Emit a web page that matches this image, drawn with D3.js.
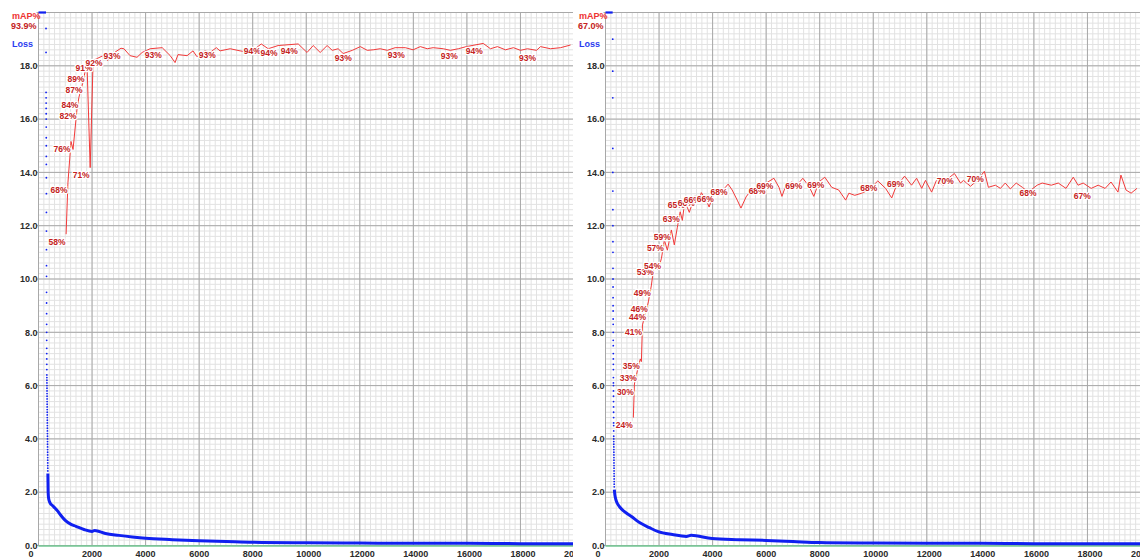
<!DOCTYPE html>
<html>
<head>
<meta charset="utf-8">
<script src="https://cdn.jsdelivr.net/npm/d3@7/dist/d3.min.js"></script>
<style>
body { margin: 0; background: #fff; }
svg text { font-family: "Liberation Sans", Arial, sans-serif; font-weight: bold; }
</style>
</head>
<body>
<div id="chart"></div>
<script>
var xTicks = [0, 2000, 4000, 6000, 8000, 10000, 12000, 14000, 16000, 18000, 20000];
var yTicks = [0, 2, 4, 6, 8, 10, 12, 14, 16, 18];

// left run (loss above 20 is clipped to the top edge)
var leftTopIters = [0, 50, 100, 150, 200, 250, 280];
var leftTopLoss = [640, 210, 95, 60, 41, 29, 22];
var leftDotStart = 281;
var leftDotLoss = [19.4, 18.5, 17.0, 16.8, 16.6, 16.4, 16.2, 16.0, 15.7, 15.3, 15.0, 14.6, 14.3, 13.8, 13.2,
    12.5, 11.8, 11.1, 10.5, 10.1, 9.5, 9.1, 8.7, 8.3, 8.0, 7.7, 7.4, 7.2, 7.0, 6.8, 6.6, 6.4, 6.3, 6.2, 6.1,
    6.0, 5.9, 5.8, 5.7, 5.6, 5.5, 5.4, 5.3, 5.2, 5.1, 5.0, 4.9, 4.8, 4.7, 4.6, 4.5, 4.4, 4.3, 4.2, 4.1, 4.0,
    3.9, 3.8, 3.7, 3.6, 3.5, 3.4, 3.3, 3.2, 3.1, 3.0, 2.9, 2.8];
var leftLossIters = [350, 360, 380, 430, 520, 620, 710, 800, 900, 1000, 1200, 1400, 1700, 2000, 2100, 2500,
    3000, 3500, 4000, 5000, 6000, 7000, 8000, 10000, 12000, 14000, 16000, 18000, 20000];
var leftLossVals = [2.7, 2.0, 1.75, 1.6, 1.5, 1.4, 1.3, 1.18, 1.05, 0.94, 0.8, 0.72, 0.6, 0.53, 0.56, 0.45,
    0.38, 0.32, 0.27, 0.22, 0.18, 0.15, 0.12, 0.1, 0.09, 0.08, 0.08, 0.07, 0.07];
var leftMapIters = [1030, 1100, 1215, 1290, 1440, 1510, 1660, 1740, 1810, 1930, 2040, 2410, 2590, 2780, 3080,
    3190, 3420, 3680, 3870, 4170, 4620, 4920, 5100, 5210, 5550, 5770, 5920, 6220, 6410, 6640, 6780, 7160,
    7530, 7910, 8320, 8580, 8950, 9700, 10030, 10260, 10520, 10780, 10970, 11190, 11380, 11720, 12020,
    12280, 12500, 12760, 13030, 13320, 13700, 13990, 14260, 14520, 14740, 15120, 15380, 15680, 15980,
    16610, 16880, 17140, 17440, 17740, 18000, 18260, 18600, 18750, 19120, 19500, 19870];
var leftMapVals = [58.4, 68.1, 75.8, 74.3, 82.0, 84.1, 86.9, 88.9, 90.6, 70.9, 91.0, 91.9, 91.0, 92.3, 93.3,
    93.2, 91.9, 91.6, 92.5, 93.2, 93.4, 91.9, 90.6, 92.1, 91.9, 92.8, 91.7, 92.8, 92.5, 93.4, 92.8, 93.2,
    92.8, 92.5, 94.1, 93.2, 93.8, 94.1, 92.5, 93.8, 92.5, 93.8, 92.9, 93.2, 92.3, 92.9, 93.6,
    92.9, 93.0, 93.2, 92.9, 93.4, 93.4, 93.0, 93.6, 93.2, 93.4, 93.2, 92.9, 93.2, 93.6,
    94.2, 93.2, 93.6, 93.0, 93.4, 92.9, 93.2, 92.9, 93.6, 93.2, 93.4, 93.9];
var leftMapLabels = [1030, 1100, 1215, 1440, 1510, 1660, 1740, 1930, 2040, 2410, 3080, 4620, 6640, 8320,
    8950, 9700, 11720, 13700, 15680, 16610, 18600];

// right run
var rightTopIters = [0, 50, 100, 150, 200, 240, 268];
var rightTopLoss = [700, 230, 110, 66, 44, 31, 23];
var rightDotStart = 270;
var rightDotLoss = [19.0, 17.8, 16.8, 14.9, 14.0, 13.3, 12.6, 12.0, 11.4, 11.0, 10.4, 10.0, 9.7, 9.3, 9.0,
    8.8, 8.5, 8.3, 8.0, 7.7, 7.5, 7.2, 7.0, 6.8, 6.6, 6.3, 6.1, 6.0, 5.8, 5.6, 5.4, 5.2, 5.0, 4.8, 4.6, 4.5,
    4.3, 4.1, 4.0, 3.9, 3.8, 3.7, 3.6, 3.5, 3.4, 3.3, 3.2, 3.1, 3.0, 2.9, 2.8, 2.7, 2.6, 2.5, 2.4, 2.3, 2.2];
var rightLossIters = [330, 350, 380, 410, 520, 710, 970, 1270, 1640, 1970, 2500, 3020, 3200, 3980, 5000,
    6000, 7000, 7970, 10000, 12000, 14000, 16000, 18000, 20000];
var rightLossVals = [2.1, 1.9, 1.75, 1.65, 1.46, 1.27, 1.09, 0.86, 0.67, 0.52, 0.41, 0.34, 0.38, 0.26, 0.22,
    0.19, 0.15, 0.11, 0.09, 0.08, 0.08, 0.07, 0.07, 0.07];
var rightMapIters = [1040, 1080, 1190, 1300, 1340, 1380, 1530, 1600, 1710, 1820, 1970, 2090, 2200, 2310,
    2460, 2570, 2680, 2790, 2870, 2980, 3050, 3130, 3240, 3350, 3500, 3580, 3760, 3870, 4060, 4250, 4390,
    4580, 4730, 4920, 5060, 5250, 5440, 5620, 5810, 6000, 6290, 6480, 6590, 6740, 6960, 7150, 7370, 7600,
    7780, 7970, 8190, 8450, 8710, 8970, 9090, 9310, 9570, 9830, 10170, 10460, 10690, 10840, 11170, 11430,
    11620, 11810, 11950, 12180, 12360, 12620, 12810, 13030, 13260, 13370, 13630, 13890, 14150, 14300,
    14560, 14750, 14930, 15120, 15340, 15570, 15790, 16120, 16310, 16650, 16910, 17200, 17470, 17650,
    17840, 18140, 18400, 18660, 18880, 19140, 19250, 19440, 19630, 19850];
var rightMapVals = [24.0, 30.3, 32.8, 35.0, 34.5, 41.4, 44.2, 45.7, 48.7, 52.8, 51.7, 53.9, 57.3, 55.4,
    59.2, 56.4, 59.6, 62.6, 61.0, 65.3, 63.5, 62.5, 64.2, 65.6, 64.8, 66.2, 64.8, 63.5, 66.4, 65.7, 66.7,
    67.8, 66.7, 64.8, 63.3, 65.4, 66.7, 66.1, 67.0, 68.0, 68.9, 67.2, 65.5, 67.6, 68.2, 67.6, 68.9, 67.4,
    65.5, 68.2, 69.1, 67.2, 66.7, 64.8, 66.1, 65.7, 66.1, 66.7, 68.4, 67.0, 65.2, 67.2, 69.3, 67.6,
    68.9, 67.0, 68.5, 66.3, 68.5, 67.6, 68.9, 69.8, 68.0, 68.5, 67.4, 68.5, 70.2, 67.2,
    67.6, 67.0, 68.0, 66.9, 68.0, 67.2, 66.3, 67.6, 68.0, 67.6, 68.0, 67.0, 69.1, 67.6,
    68.0, 67.0, 67.6, 67.0, 68.2, 66.3, 69.5, 66.7, 66.1, 67.0];
var rightMapLabels = [1040, 1080, 1190, 1300, 1380, 1530, 1600, 1710, 1820, 2090, 2200, 2460, 2790, 2980,
    3350, 3580, 4060, 4580, 6000, 6290, 7370, 8190, 10170, 11170, 13030, 14150, 16120, 18140];

var runs = [
    {offset: 0, clipLeft: 0, topIters: leftTopIters, topLoss: leftTopLoss, dotStart: leftDotStart,
     dotLoss: leftDotLoss, lossIters: leftLossIters, lossVals: leftLossVals, mapIters: leftMapIters,
     mapVals: leftMapVals, mapLabels: leftMapLabels},
    {offset: 567, clipLeft: 6, topIters: rightTopIters, topLoss: rightTopLoss, dotStart: rightDotStart,
     dotLoss: rightDotLoss, lossIters: rightLossIters, lossVals: rightLossVals, mapIters: rightMapIters,
     mapVals: rightMapVals, mapLabels: rightMapLabels}
];

var W = 1140, H = 558;
var panelWidth = 573;
var svg = d3.select("#chart").append("svg")
    .attr("width", W).attr("height", H);
svg.append("rect").attr("width", W).attr("height", H).attr("fill", "#fff");

var x = d3.scaleLinear().domain([0, 20000]).range([38.5, 574]);
var y = d3.scaleLinear().domain([0, 20]).range([545.5, 12.5]).clamp(true);
var yMap = d3.scaleLinear().domain([0, 100]).range([545.5, 12.5]);

function drawPanel(run, idx) {
    var clipId = "clip" + idx;
    svg.append("clipPath").attr("id", clipId)
        .append("rect")
        .attr("x", run.offset + run.clipLeft).attr("y", 0)
        .attr("width", panelWidth - run.clipLeft).attr("height", H);

    var g = svg.append("g").attr("clip-path", "url(#" + clipId + ")")
        .append("g").attr("transform", "translate(" + run.offset + ",0)");

    g.append("rect").attr("x", run.clipLeft).attr("width", panelWidth - run.clipLeft)
        .attr("height", H).attr("fill", "#fff");

    // minor grid, every 1/100
    g.append("g").selectAll("line").data(d3.range(0, 20001, 200)).enter().append("line")
        .attr("x1", function(d) { return x(d); }).attr("x2", function(d) { return x(d); })
        .attr("y1", y(20)).attr("y2", y(0))
        .attr("stroke", "#e2e2e2").attr("stroke-width", 1);
    g.append("g").selectAll("line").data(d3.range(0, 100.5, 1)).enter().append("line")
        .attr("x1", x(0)).attr("x2", x(20000))
        .attr("y1", function(d) { return y(d / 5); }).attr("y2", function(d) { return y(d / 5); })
        .attr("stroke", "#e2e2e2").attr("stroke-width", 1);

    // major grid
    g.append("g").selectAll("line").data(xTicks).enter().append("line")
        .attr("x1", function(d) { return x(d); }).attr("x2", function(d) { return x(d); })
        .attr("y1", y(20)).attr("y2", y(0))
        .attr("stroke", "#a8a8a8").attr("stroke-width", 1);
    g.append("g").selectAll("line").data(yTicks.concat([20])).enter().append("line")
        .attr("x1", x(0) - 2).attr("x2", x(20000))
        .attr("y1", function(d) { return y(d); }).attr("y2", function(d) { return y(d); })
        .attr("stroke", "#a8a8a8").attr("stroke-width", 1);

    g.append("line")
        .attr("x1", x(0)).attr("x2", x(20000)).attr("y1", y(0) + 0.5).attr("y2", y(0) + 0.5)
        .attr("stroke", "#72c893").attr("stroke-width", 1.5);

    g.append("g").selectAll("text").data(yTicks).enter().append("text")
        .attr("x", x(0) - 1).attr("y", function(d) { return y(d) + 3.2; })
        .attr("text-anchor", "end").attr("font-size", "9px").attr("fill", "#2a2a2a")
        .text(function(d) { return d.toFixed(1); });
    g.append("g").selectAll("text").data(xTicks).enter().append("text")
        .attr("x", function(d) { return x(d) - 10; }).attr("y", 556.5)
        .attr("font-size", "9px").attr("fill", "#2a2a2a")
        .text(function(d) { return d; });

    // loss
    var topLine = d3.line()
        .x(function(d, i) { return x(run.topIters[i]); })
        .y(function(d) { return y(d); });
    g.append("path").datum(run.topLoss).attr("d", topLine)
        .attr("fill", "none").attr("stroke", "#1020f0").attr("stroke-width", 2.2);

    g.append("g").selectAll("circle").data(run.dotLoss).enter().append("circle")
        .attr("cx", function(d, i) { return x(run.dotStart + i); })
        .attr("cy", function(d) { return y(d); })
        .attr("r", 0.9).attr("fill", "#1020f0");

    var lossLine = d3.line()
        .x(function(d, i) { return x(run.lossIters[i]); })
        .y(function(d) { return y(d); })
        .curve(d3.curveMonotoneX);
    g.append("path").datum(run.lossVals).attr("d", lossLine)
        .attr("fill", "none").attr("stroke", "#1020f0").attr("stroke-width", 3)
        .attr("stroke-linejoin", "round");

    // mAP, segment then label, in the order darknet draws them
    var mg = g.append("g");
    run.mapIters.forEach(function(it, i) {
        var v = run.mapVals[i];
        if (i > 0) {
            mg.append("line")
                .attr("x1", x(run.mapIters[i - 1])).attr("y1", yMap(run.mapVals[i - 1]))
                .attr("x2", x(it)).attr("y2", yMap(v))
                .attr("stroke", "#f23a3a").attr("stroke-width", 1);
        }
        if (run.mapLabels.indexOf(it) >= 0) {
            mg.append("text")
                .attr("x", x(it) - 0.5).attr("y", yMap(v) + 10.5)
                .attr("text-anchor", "end").attr("font-size", "8.5px")
                .attr("fill", "#c42222").attr("stroke", "#fff").attr("stroke-width", 2.6)
                .attr("stroke-linejoin", "round").attr("paint-order", "stroke")
                .text(Math.round(v) + "%");
        }
    });

    g.append("text").attr("x", 12).attr("y", 19).attr("font-size", "9px")
        .attr("fill", "#ee3333").text("mAP%");
    g.append("text").attr("x", 11).attr("y", 28.5).attr("font-size", "9px")
        .attr("fill", "#c42222").text(run.mapVals[run.mapVals.length - 1].toFixed(1) + "%");
    g.append("text").attr("x", 12).attr("y", 47).attr("font-size", "9px")
        .attr("fill", "#2a3cf0").text("Loss");
}

runs.forEach(drawPanel);
</script>
</body>
</html>
